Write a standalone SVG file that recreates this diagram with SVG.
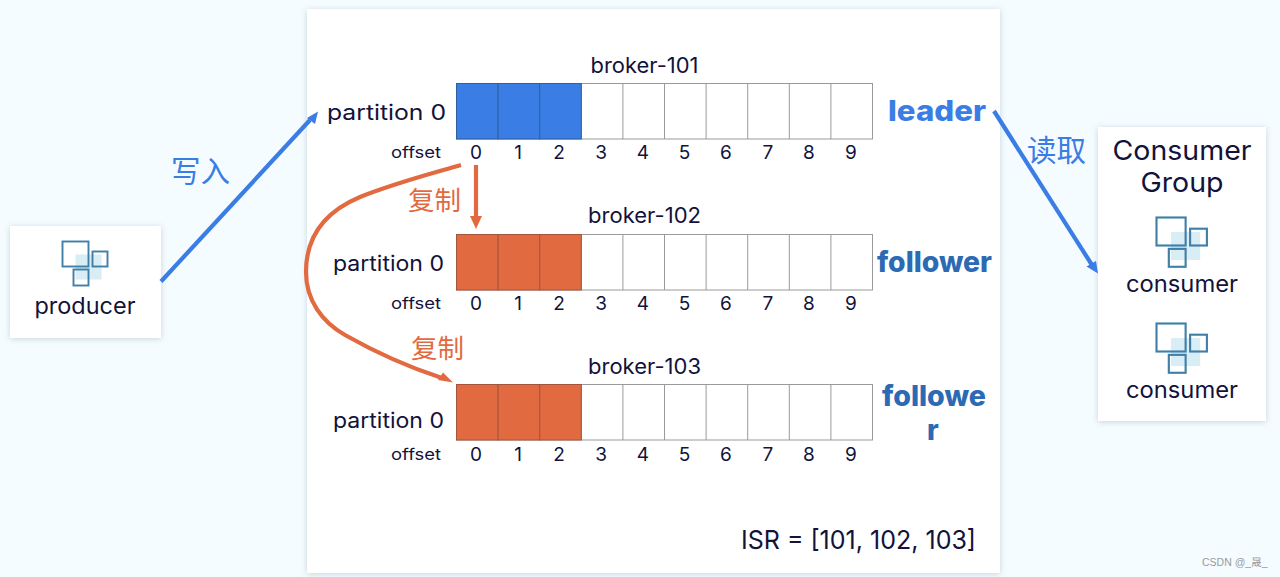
<svg xmlns="http://www.w3.org/2000/svg" width="1280" height="577" viewBox="0 0 1280 577">
<style>
text{font-family:Inter,"Noto Sans","Noto Sans CJK SC",sans-serif;fill:#12123a}
.c{text-anchor:middle}.e{text-anchor:end}
.zh{font-family:"Noto Sans CJK SC",sans-serif}
.p{font-size:21px}.o{font-size:16px}.n{font-size:19px}.b{font-size:21px}
.r{font-weight:800;font-size:28px}
.card{fill:#fff;filter:url(#s)}
.cell{fill:#fff;stroke:#9a9a9a;stroke-width:1}
.bl{fill:#3a7de4;stroke:#2f5f9f;stroke-width:1}
.or{fill:#e26a41;stroke:#a3553c;stroke-width:1}
.ln{fill:none;stroke-width:4.2}
.ic{fill:none;stroke:#3f7fa8;stroke-width:1.9}
.sh{fill:#d9edf5}
</style>
<defs>
<filter id="s" x="-10%" y="-10%" width="120%" height="120%"><feDropShadow dx="0" dy="1" stdDeviation="3" flood-color="#6d8796" flood-opacity=".35"/></filter>
<g id="cells"><rect class="cell" x="0" y="0" width="416" height="55.5"/><path d="M124.800 0V55.500M166.400 0V55.500M208 0V55.500M249.600 0V55.500M291.200 0V55.500M332.800 0V55.500M374.400 0V55.500" stroke="#9a9a9a" fill="none"/></g>
<g id="icon"><rect class="sh" x="13" y="13" width="26" height="25"/><rect class="ic" x="0" y="0" width="26" height="25"/><rect class="ic" x="30" y="10" width="15" height="15"/><rect class="ic" x="11" y="28" width="15" height="16"/></g>
<g id="nums" class="n"><text class="c" x="476" y="0">0</text><text class="c" x="518" y="0">1</text><text class="c" x="559" y="0">2</text><text class="c" x="601" y="0">3</text><text class="c" x="643" y="0">4</text><text class="c" x="684.500" y="0">5</text><text class="c" x="726" y="0">6</text><text class="c" x="768" y="0">7</text><text class="c" x="809" y="0">8</text><text class="c" x="851" y="0">9</text></g>
</defs>
<rect width="1280" height="577" fill="#f5fcff"/>
<rect class="card" x="307" y="9" width="693" height="564"/>
<g id="producer"><rect class="card" x="10" y="226" width="151" height="112"/><use href="#icon" x="62.500" y="241.500"/><text class="c" x="85" y="314" font-size="22.500" textLength="101" lengthAdjust="spacingAndGlyphs">producer</text></g>
<g id="broker-101"><text class="c b" x="644.500" y="72.500" textLength="108" lengthAdjust="spacingAndGlyphs">broker-101</text><text class="p" x="327" y="119.500" textLength="119" lengthAdjust="spacingAndGlyphs">partition 0</text><text class="o" x="391" y="158" textLength="50" lengthAdjust="spacingAndGlyphs">offset</text>
<g transform="translate(456.500 83.500)"><use href="#cells"/><rect class="bl" x="0" y="0" width="41.600" height="55.500"/><rect class="bl" x="41.600" y="0" width="41.600" height="55.500"/><rect class="bl" x="83.200" y="0" width="41.600" height="55.500"/></g>
<use href="#nums" y="159"/><text class="r" x="888" y="121" style="fill:#3a7de4" textLength="98" lengthAdjust="spacingAndGlyphs">leader</text></g>
<g id="broker-102"><text class="c b" x="644.500" y="223" textLength="113" lengthAdjust="spacingAndGlyphs">broker-102</text><text class="p" x="333" y="270.500" textLength="111" lengthAdjust="spacingAndGlyphs">partition 0</text><text class="o" x="391" y="309" textLength="50" lengthAdjust="spacingAndGlyphs">offset</text>
<g transform="translate(456.500 234.500)"><use href="#cells"/><rect class="or" x="0" y="0" width="41.600" height="55.500"/><rect class="or" x="41.600" y="0" width="41.600" height="55.500"/><rect class="or" x="83.200" y="0" width="41.600" height="55.500"/></g>
<use href="#nums" y="310"/><text class="r" x="877" y="271.500" style="fill:#2c6ab4" textLength="115" lengthAdjust="spacingAndGlyphs">follower</text></g>
<g id="broker-103"><text class="c b" x="644.500" y="374" textLength="113" lengthAdjust="spacingAndGlyphs">broker-103</text><text class="p" x="333" y="427.500" textLength="111" lengthAdjust="spacingAndGlyphs">partition 0</text><text class="o" x="391" y="460" textLength="50" lengthAdjust="spacingAndGlyphs">offset</text>
<g transform="translate(456.500 384.500)"><use href="#cells"/><rect class="or" x="0" y="0" width="41.600" height="55.500"/><rect class="or" x="41.600" y="0" width="41.600" height="55.500"/><rect class="or" x="83.200" y="0" width="41.600" height="55.500"/></g>
<use href="#nums" y="461"/><text class="r" x="882" y="406" style="fill:#2c6ab4" textLength="104" lengthAdjust="spacingAndGlyphs">followe</text><text class="r c" x="933" y="440" style="fill:#2c6ab4">r</text></g>
<text x="741" y="549" font-size="26" textLength="235" lengthAdjust="spacingAndGlyphs">ISR = [101, 102, 103]</text>
<g id="consumer-group"><rect class="card" x="1098" y="127" width="168" height="294"/><text class="c" x="1182" y="160" font-size="27" textLength="139" lengthAdjust="spacingAndGlyphs">Consumer</text><text class="c" x="1182" y="192" font-size="27" textLength="83" lengthAdjust="spacingAndGlyphs">Group</text>
<g id="consumer-1"><use href="#icon" transform="translate(1156.500 217.500) scale(1.120)"/><text class="c" x="1182" y="292" font-size="22.500" textLength="112" lengthAdjust="spacingAndGlyphs">consumer</text></g>
<g id="consumer-2"><use href="#icon" transform="translate(1156.500 323.500) scale(1.120)"/><text class="c" x="1182" y="398" font-size="22.500" textLength="112" lengthAdjust="spacingAndGlyphs">consumer</text></g></g>
<g id="connectors">
<path class="ln" stroke="#3a7de4" d="M161 281.500L310 120"/><path fill="#3a7de4" d="M318 111.500L315 124L307 118Z"/>
<path class="ln" stroke="#3a7de4" d="M994 111L1092 265"/><path fill="#3a7de4" d="M1098 273.500L1086.500 266.500L1096 261Z"/>
<path class="ln" stroke="#e26a41" d="M476 165V217"/><path fill="#e26a41" d="M476 229L470 216H482Z"/>
<path class="ln" stroke="#e26a41" d="M461 165C430 174 395 183 360 197C322 213 306 240 306 272C306 300 322 322 345 335C375 352 405 366 442 378"/><path fill="#e26a41" d="M453 382.500L438 380L443 372.500Z"/>
</g>
<g id="labels"><text class="zh" x="171" y="182" font-size="29.500" style="fill:#3a7de4">写入</text><text class="zh" x="1027" y="161" font-size="29.500" style="fill:#3a7de4">读取</text><text class="zh" x="408" y="210" font-size="26.500" style="fill:#e26a41">复制</text><text class="zh" x="411" y="358" font-size="26.500" style="fill:#e26a41">复制</text>
<text x="1202" y="566" font-size="10.500" style="fill:#9a9a9a;font-family:'Liberation Sans','Noto Sans CJK SC',sans-serif">CSDN @_晟_</text></g>
</svg>
